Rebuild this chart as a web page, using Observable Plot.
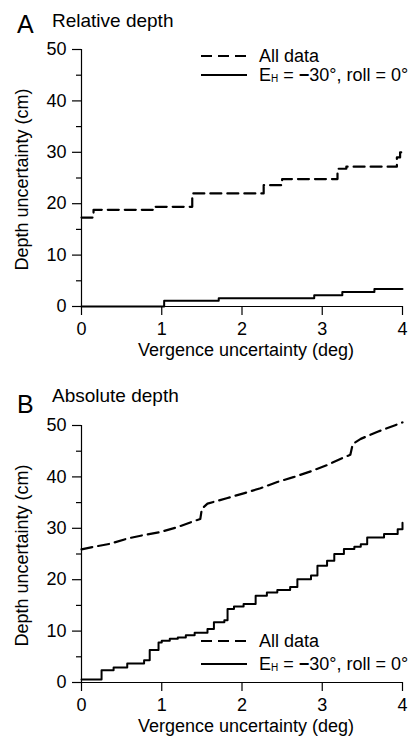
<!DOCTYPE html>
<html><head><meta charset="utf-8">
<script src="https://cdn.jsdelivr.net/npm/d3@7"></script>
<script src="https://cdn.jsdelivr.net/npm/@observablehq/plot@0.6"></script>
<style>
body{margin:0;background:#fff;font-family:"Liberation Sans",Arial,sans-serif;}
#wrap{position:relative;width:417px;height:738px;overflow:hidden;background:#fff}
#wrap svg{position:absolute;left:0}
</style></head><body><div id="wrap"></div>
<script>
const xTicks = [0, 1, 2, 3, 4];
const yTicks = [0, 10, 20, 30, 40, 50];
const yMinor = [5, 15, 25, 35, 45];
const xLabel = "Vergence uncertainty (deg)";
const yLabel = "Depth uncertainty (cm)";
const legendAll = "All data";
const panelLetters = ["A", "B"];
const panelTitles = ["Relative depth", "Absolute depth"];

// Panel A — relative depth
const relAllDeg = [0, 0.15, 0.92, 1.38, 2.27, 2.5, 3.19, 3.3, 3.93, 3.97, 4.0];
const relAllCm  = [17.3, 18.8, 19.4, 22.0, 23.6, 24.8, 26.8, 27.2, 29.0, 30.0, 30.0];
const relSolDeg = [0, 1.03, 1.71, 2.9, 3.25, 3.65, 4.0];
const relSolCm  = [0, 1.1, 1.6, 2.2, 2.8, 3.4, 3.4];

// Panel B — absolute depth
const absAllDeg = [0, 0.15, 0.36, 0.57, 0.78, 0.99, 1.19, 1.40, 1.48, 1.50, 1.57, 1.82, 2.02, 2.23, 2.44, 2.65, 2.86, 3.06, 3.27, 3.35, 3.38, 3.48, 3.69, 3.90, 4.0];
const absAllCm  = [25.9, 26.4, 27.0, 28.0, 28.7, 29.3, 30.2, 31.4, 31.8, 33.8, 34.8, 35.9, 36.8, 37.8, 39.0, 40.0, 41.1, 42.3, 43.8, 44.3, 46.4, 47.4, 48.8, 50.0, 50.6];
const absSolDeg = [0, 0.25, 0.4, 0.57, 0.78, 0.85, 0.96, 1.0, 1.1, 1.2, 1.3, 1.41, 1.57, 1.65, 1.78, 1.82, 1.9, 2.02, 2.17, 2.31, 2.44, 2.6, 2.69, 2.86, 2.94, 3.06, 3.15, 3.27, 3.4, 3.48, 3.56, 3.77, 3.94, 4.0];
const absSolCm  = [0.6, 2.4, 2.9, 3.7, 4.35, 6.3, 7.8, 8.1, 8.5, 8.75, 9.2, 9.7, 10.4, 11.7, 12.1, 14.3, 14.8, 15.25, 16.9, 17.5, 18.0, 18.6, 20.1, 20.8, 22.7, 23.7, 25.0, 25.95, 26.4, 26.9, 28.2, 28.9, 29.8, 31.1];

const FONT = "Liberation Sans, Arial, Helvetica, sans-serif";

function panel(cfg) {
  const chart = Plot.plot({
    width: 417, height: cfg.height,
    marginLeft: 81, marginRight: 15, marginTop: cfg.mt, marginBottom: cfg.mb,
    x: {domain: [0, 4]},
    y: {domain: [0, 50]},
    style: {fontFamily: FONT, color: "#000", background: "transparent", overflow: "visible"},
    marks: [
      Plot.axisY(yTicks, {tickSize: 9, tickPadding: 6, fontSize: 18, label: null, stroke: "#000", strokeWidth: 1.2}),
      Plot.axisY(yMinor, {tickSize: 5, text: null, label: null, stroke: "#000", strokeWidth: 1.2}),
      Plot.axisX(xTicks, {tickSize: 9, tickPadding: 7, fontSize: 18, label: null, stroke: "#000", strokeWidth: 1.2}),
      Plot.ruleX([0], {y1: 0, y2: 50, stroke: "#000", strokeWidth: 1.2}),
      Plot.ruleY([0], {x1: 0, x2: 4, stroke: "#000", strokeWidth: 1.2}),
      Plot.line(cfg.allCm, {x: cfg.allDeg, y: cfg.allCm, curve: cfg.allCurve, stroke: "#000", strokeWidth: 2.2, strokeDasharray: "11,6"}),
      Plot.line(cfg.solCm, {x: cfg.solDeg, y: cfg.solCm, curve: "step-after", stroke: "#000", strokeWidth: 2})
    ]
  });
  chart.style.top = cfg.top + "px";
  const svg = d3.select(chart);
  const g = svg.append("g").attr("font-family", FONT).attr("fill", "#000").attr("text-anchor", "start");
  // panel letter and title
  g.append("text").attr("x", 17).attr("y", cfg.letterY).attr("font-size", 25).text(cfg.letter);
  g.append("text").attr("x", 52).attr("y", cfg.titleY).attr("font-size", 19).text(cfg.title);
  // axis titles
  const bottom = cfg.height - cfg.mb;
  g.append("text").attr("x", 246).attr("y", bottom + 50).attr("text-anchor", "middle").attr("font-size", 18).text(xLabel);
  const cy = (cfg.mt + bottom) / 2 + 2;
  g.append("text").attr("transform", `translate(28,${cy}) rotate(-90)`).attr("text-anchor", "middle").attr("font-size", 18).text(yLabel);
  // legend
  const l = svg.append("g").attr("font-family", FONT).attr("fill", "#000").attr("text-anchor", "start");
  l.append("line").attr("x1", 201).attr("x2", 246).attr("y1", cfg.legY1).attr("y2", cfg.legY1)
    .attr("stroke", "#000").attr("stroke-width", 2.2).attr("stroke-dasharray", "11,6");
  l.append("line").attr("x1", 201).attr("x2", 247).attr("y1", cfg.legY2).attr("y2", cfg.legY2)
    .attr("stroke", "#000").attr("stroke-width", 2);
  l.append("text").attr("x", 259).attr("y", cfg.legY1).attr("dy", "0.36em").attr("font-size", 18).text(legendAll);
  const t2 = l.append("text").attr("x", 259).attr("y", cfg.legY2).attr("dy", "0.36em").attr("font-size", 18).attr("fill", "#000");
  t2.append("tspan").attr("fill", "#000").text("E");
  t2.append("tspan").attr("fill", "#000").attr("font-size", 10).attr("dy", 1).text("H");
  t2.append("tspan").attr("fill", "#000").attr("dy", -1).text(" = ");
  t2.append("tspan").attr("fill", "#000").attr("font-weight", "bold").text("\u2212");
  t2.append("tspan").attr("fill", "#000").text("30\u00b0, roll = 0\u00b0");
  document.getElementById("wrap").appendChild(chart);
}

panel({top: 0, height: 370, mt: 49, mb: 64,
  allDeg: relAllDeg, allCm: relAllCm, allCurve: "step-after",
  solDeg: relSolDeg, solCm: relSolCm,
  letter: panelLetters[0], title: panelTitles[0], letterY: 33, titleY: 27,
  legY1: 56, legY2: 75});

panel({top: 375, height: 363, mt: 50, mb: 56,
  allDeg: absAllDeg, allCm: absAllCm, allCurve: "linear",
  solDeg: absSolDeg, solCm: absSolCm,
  letter: panelLetters[1], title: panelTitles[1], letterY: 38, titleY: 27,
  legY1: 266, legY2: 289});
</script></body></html>
